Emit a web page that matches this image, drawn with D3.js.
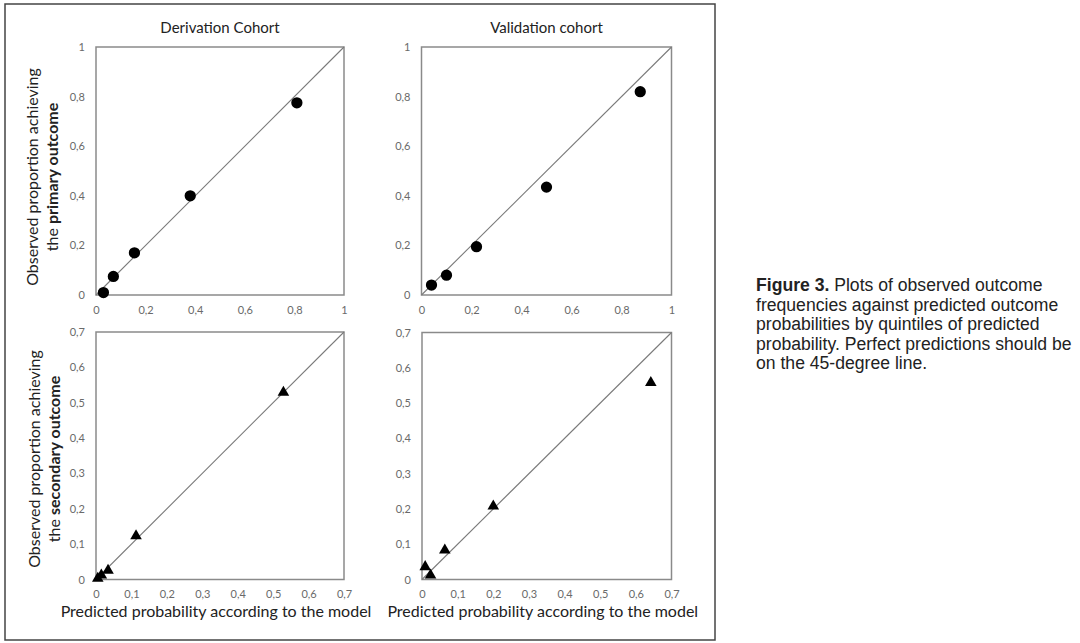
<!DOCTYPE html>
<html><head><meta charset="utf-8">
<script src="https://cdn.jsdelivr.net/npm/d3@7"></script>
<style>body{margin:0;background:#fff}svg{display:block}</style>
</head><body>
<script>
// ---- data ----
const panelTitles = ["Derivation Cohort", "Validation cohort"];
const topTicks = [0, 0.2, 0.4, 0.6, 0.8, 1];
const bottomTicks = [0, 0.1, 0.2, 0.3, 0.4, 0.5, 0.6, 0.7];
// primary outcome (circles)
const derivPrimaryPred = [0.03, 0.07, 0.155, 0.38, 0.81];
const derivPrimaryObs  = [0.01, 0.075, 0.17, 0.40, 0.775];
const validPrimaryPred = [0.04, 0.10, 0.22, 0.50, 0.875];
const validPrimaryObs  = [0.04, 0.08, 0.195, 0.435, 0.82];
// secondary outcome (triangles)
const derivSecondaryPred = [0.005, 0.015, 0.034, 0.113, 0.529];
const derivSecondaryObs  = [0.003, 0.012, 0.026, 0.123, 0.529];
const validSecondaryPred = [0.009, 0.024, 0.064, 0.20, 0.642];
const validSecondaryObs  = [0.036, 0.012, 0.083, 0.208, 0.558];
const yLabelTop = ["Observed proportion achieving", "the ", "primary outcome"];
const yLabelBottom = ["Observed proportion achieving", "the ", "secondary outcome"];
const xLabel = "Predicted probability according to the model";
const captionBold = "Figure 3.";
const captionLines = [" Plots of observed outcome", "frequencies against predicted outcome", "probabilities by quintiles of predicted", "probability. Perfect predictions should be", "on the 45-degree line."];

const W = 1080, H = 643;
const svg = d3.select("body").append("svg").attr("width", W).attr("height", H);
const F = "Lato, 'Open Sans', sans-serif";
const fmt = d => String(+d.toFixed(1)).replace(".", ",");

// outer frame
svg.append("rect").attr("x", 5).attr("y", 4).attr("width", 710).attr("height", 636)
  .attr("fill", "none").attr("stroke", "#444").attr("stroke-width", 1.5);

const panels = [
  {x0: 96, x1: 344, y0: 47, y1: 295, max: 1, ticks: topTicks, px: derivPrimaryPred, py: derivPrimaryObs, sym: "circle"},
  {x0: 421.5, x1: 671.5, y0: 47, y1: 295, max: 1, ticks: topTicks, px: validPrimaryPred, py: validPrimaryObs, sym: "circle"},
  {x0: 96, x1: 344, y0: 332, y1: 579.5, max: 0.7, ticks: bottomTicks, px: derivSecondaryPred, py: derivSecondaryObs, sym: "tri"},
  {x0: 422, x1: 671.5, y0: 332.5, y1: 579.5, max: 0.7, ticks: bottomTicks, px: validSecondaryPred, py: validSecondaryObs, sym: "tri"}
];

panels.forEach((p, i) => {
  const x = d3.scaleLinear().domain([0, p.max]).range([p.x0, p.x1]);
  const y = d3.scaleLinear().domain([0, p.max]).range([p.y1, p.y0]);
  const g = svg.append("g");
  // x axis
  const gx = g.append("g").attr("transform", `translate(0,${p.y1 + 8})`)
    .call(d3.axisBottom(x).tickValues(p.ticks).tickFormat(fmt).tickSize(0));
  gx.select(".domain").remove();
  gx.selectAll("text").attr("font-family", F).attr("font-size", 11).attr("fill", "#6a6a6a");
  const gy = g.append("g").attr("transform", `translate(${p.x0 - 8},0)`)
    .call(d3.axisLeft(y).tickValues(p.ticks).tickFormat(fmt).tickSize(0));
  gy.select(".domain").remove();
  gy.selectAll("text").attr("font-family", F).attr("font-size", 11).attr("fill", "#6a6a6a");
  // frame
  g.append("rect").attr("x", p.x0).attr("y", p.y0).attr("width", p.x1 - p.x0).attr("height", p.y1 - p.y0)
    .attr("fill", "none").attr("stroke", "#8a8a8a").attr("stroke-width", 1.5);
  // 45-degree line
  g.append("line").attr("x1", x(0)).attr("y1", y(0)).attr("x2", x(p.max)).attr("y2", y(p.max))
    .attr("stroke", "#7a7a7a").attr("stroke-width", 1.1);
  // points
  const pts = p.px.map((v, k) => [v, p.py[k]]);
  const sym = p.sym === "circle" ? d3.symbol(d3.symbolCircle, 100) : d3.symbol(d3.symbolTriangle, 58);
  g.selectAll("path.pt").data(pts).join("path").attr("class", "pt")
    .attr("d", sym).attr("transform", d => `translate(${x(d[0])},${y(d[1])})`).attr("fill", "#000");
  // titles
  if (i < 2) {
    g.append("text").attr("x", (p.x0 + p.x1) / 2).attr("y", 33).attr("text-anchor", "middle")
      .attr("font-family", F).attr("font-size", 15).attr("fill", "#222").text(panelTitles[i]);
  } else {
    g.append("text").attr("x", (p.x0 + p.x1) / 2 - 4).attr("y", 617).attr("text-anchor", "middle")
      .attr("font-family", F).attr("font-size", 16).attr("fill", "#222").text(xLabel);
  }
});

// y labels
function yLabel(lbl, cx1, cx2, cy) {
  svg.append("text").attr("transform", `translate(${cx1},${cy}) rotate(-90)`).attr("text-anchor", "middle")
    .attr("font-family", F).attr("font-size", 16).attr("fill", "#222").text(lbl[0]);
  const t = svg.append("text").attr("transform", `translate(${cx2},${cy}) rotate(-90)`).attr("text-anchor", "middle")
    .attr("font-family", F).attr("font-size", 16).attr("fill", "#222");
  t.append("tspan").text(lbl[1]);
  t.append("tspan").attr("font-weight", "bold").text(lbl[2]);
}
yLabel(yLabelTop, 38, 58, 177);
yLabel(yLabelBottom, 40, 60, 459);

// caption
const cap = svg.append("text").attr("font-family", "'Liberation Sans', Arial, sans-serif").attr("font-size", 17.6).attr("fill", "#222");
captionLines.forEach((l, k) => {
  const t = cap.append("tspan").attr("x", 756).attr("y", 291 + k * 19.5);
  if (k === 0) { t.append("tspan").attr("font-weight", "bold").text(captionBold); t.append("tspan").text(l); }
  else t.text(l);
});
</script>
</body></html>
